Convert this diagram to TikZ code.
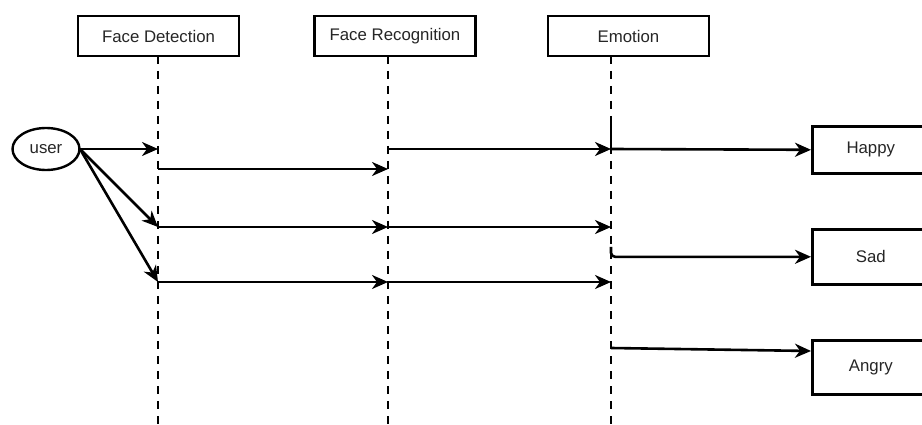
\documentclass[tikz,border=0pt]{standalone}
\usepackage{fontspec}
\setmainfont{Liberation Sans}
\usetikzlibrary{arrows.meta,shapes.geometric}
\begin{document}
\begin{tikzpicture}[x=1pt,y=-1pt,
  lbl/.style={font=\fontsize{16.8}{19}\selectfont, text=black!85},
  obj/.style={draw, line width=2.6pt, lbl, minimum width=161pt, minimum height=40pt, inner sep=0pt},
  res/.style={draw, line width=2.6pt, lbl, minimum width=117pt, inner sep=0pt, anchor=north west},
  life/.style={line width=2.8pt, dash pattern=on 8pt off 7pt},
  msg/.style={line width=2.6pt, -{Stealth[length=16pt,width=14pt,inset=5pt]}},
  plain/.style={line width=2.4pt}]
\clip (0,0) rectangle (922,425);
\fill[white] (0,0) rectangle (922,425);
% lifeline heads
\node[obj] (fd) at (158.5,36) {Face Detection};
\node[obj] (fr) at (395,36) {Face Recognition};
\node[obj] (em) at (628.5,36) {Emotion};
% lifeline coordinates
\coordinate (fdb) at (158,56);  \coordinate (fde) at (158,425);
\coordinate (frb) at (388,56);  \coordinate (fre) at (388,425);
\coordinate (emb) at (611,56);  \coordinate (eme) at (611,425);
\draw[life] (fdb) -- (fde);
\draw[life] (frb) -- (fre);
\draw[life] (emb) -- (eme);
\coordinate (emt) at (611,121);
\coordinate (emm) at (611,149);
\draw[plain] (emt) -- (emm);
% user
\node[draw, ellipse, line width=2.4pt, minimum width=67pt, minimum height=42pt, inner sep=0pt, lbl] (user) at (46,149) {user};
% result boxes
\node[res, minimum height=47pt] (happy) at (811,125) {Happy};
\node[res, minimum height=55pt] (sad) at (811,228) {Sad};
\node[res, minimum height=54pt] (angry) at (811,339) {Angry};
% message points
\coordinate (fd1) at (158,149);
\coordinate (fd2) at (158,169);
\coordinate (fr2) at (388,169);
\coordinate (fr1) at (388,149);
\coordinate (fd3) at (158,227);
\coordinate (fr3) at (388,227);
\coordinate (em3) at (611,227);
\coordinate (fd4) at (158,282);
\coordinate (fr4) at (388,282);
\coordinate (em4) at (611,282);
\coordinate (ems) at (611,247);
\coordinate (ema) at (611,348);
\coordinate (ang) at (811,351);
\coordinate (uo) at (80,149);
% messages
\draw[msg] (uo) -- (fd1);
\draw[msg] (uo) -- (fd3);
\draw[msg] (uo) -- (fd4);
\draw[msg] (fd2) -- (fr2);
\draw[msg] (fr1) -- (emm);
\draw[msg] (emm) -- (happy.west);
\draw[msg] (fd3) -- (fr3);
\draw[msg] (fr3) -- (em3);
\draw[msg] (fd4) -- (fr4);
\draw[msg] (fr4) -- (em4);
\draw[msg, rounded corners=4pt] (ems) |- (sad.west);
\draw[msg] (ema) -- (ang);
\end{tikzpicture}
\end{document}
